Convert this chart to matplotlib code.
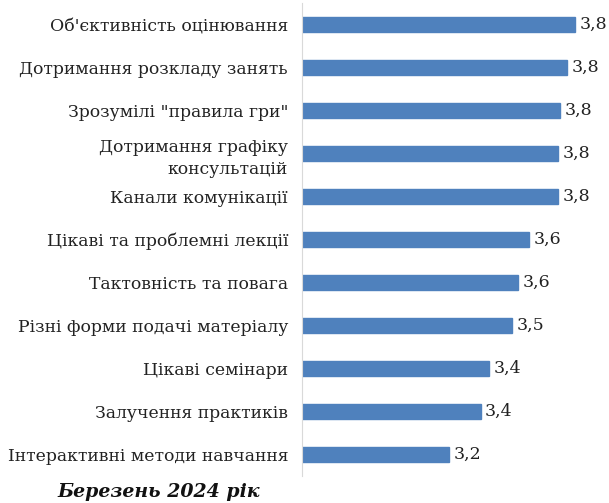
import matplotlib.pyplot as plt

categories = [
    "Об'єктивність оцінювання",
    "Дотримання розкладу занять",
    'Зрозумілі "правила гри"',
    "Дотримання графіку\nконсультацій",
    "Канали комунікації",
    "Цікаві та проблемні лекції",
    "Тактовність та повага",
    "Різні форми подачі матеріалу",
    "Цікаві семінари",
    "Залучення практиків",
    "Інтерактивні методи навчання",
]
values = [3.84, 3.80, 3.77, 3.76, 3.76, 3.62, 3.57, 3.54, 3.43, 3.39, 3.24]
title = "Березень 2024 рік"

fig = plt.figure(figsize=(6.09, 5.03), dpi=100)
ax = fig.add_axes([302 / 609, 1 - 476 / 503, 294 / 609, 473 / 503])

y = list(range(len(categories)))
ax.barh(y, values, height=0.35, color='#4F81BD', edgecolor='#4F81BD')
ax.set_xlim(2.54, 3.94)
ax.set_ylim(len(categories) - 0.5, -0.5)

for yi, v in zip(y, values):
    ax.text(v + 0.022, yi, ('%.1f' % v).replace('.', ','), va='center', ha='left',
            fontsize=12.5, family='DejaVu Serif', color='#222222')

ax.set_yticks(y)
ax.set_yticklabels(categories, fontsize=12.4, family='DejaVu Serif', color='#222222',
                   linespacing=1.4)
ax.tick_params(axis='y', length=0, pad=10)
ax.set_xticks([])
for s in ['top', 'right', 'bottom']:
    ax.spines[s].set_visible(False)
ax.spines['left'].set_color('#D9D9D9')

fig.text(57 / 609, 1 - 492 / 503, title, fontsize=13.6, fontweight='bold', style='italic',
         family='DejaVu Serif', va='center', ha='left', color='#111111')

fig.savefig('out.png', dpi=100)
